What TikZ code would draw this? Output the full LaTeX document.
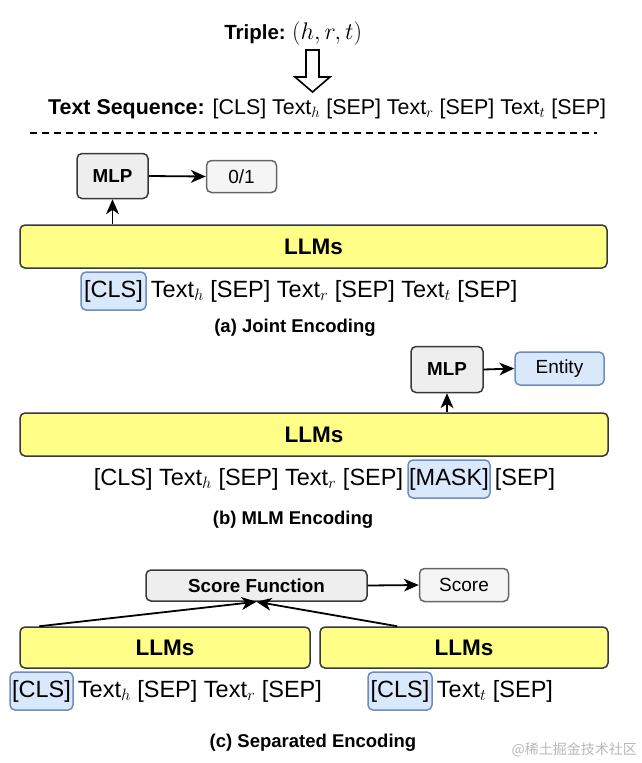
\RequirePackage{fix-cm}
\documentclass[tikz,border=0pt]{standalone}
\usepackage{fontspec}
\setmainfont{Liberation Sans}
\newfontfamily\cjkfont{Noto Sans CJK SC}
\usetikzlibrary{arrows.meta,calc}
\definecolor{yelfill}{HTML}{FFFF88}
\definecolor{darkline}{HTML}{36393D}
\definecolor{grayfill}{HTML}{EEEEEE}
\definecolor{outfill}{HTML}{F5F5F5}
\definecolor{outline}{HTML}{666666}
\definecolor{bluefill}{HTML}{DAE8FC}
\definecolor{blueline}{HTML}{6C8EBF}
\newcommand{\fs}[1]{\fontsize{#1}{#1}\selectfont}
\tikzset{
  llm/.style={draw=darkline, fill=yelfill, line width=1.5pt, rounded corners=5pt, inner sep=0pt, font=\bfseries\fs{22.5}},
  mlpbox/.style={draw=darkline, fill=grayfill, line width=1.5pt, rounded corners=5pt, inner sep=0pt, font=\bfseries\fs{18.8}},
  outbox/.style={draw=outline, fill=outfill, line width=1.5pt, rounded corners=5pt, inner sep=0pt, font=\fs{19}},
  entbox/.style={draw=blueline, fill=bluefill, line width=1.5pt, rounded corners=5pt, inner sep=0pt, font=\fs{19}},
  tokbox/.style={draw=blueline, fill=bluefill, line width=1.5pt, rounded corners=5pt, inner sep=0pt, font=\fs{23.5}},
  tok/.style={inner sep=0pt, font=\fs{23.5}},
  capt/.style={inner sep=0pt, font=\bfseries\fs{18.5}},
  arr/.style={line width=1.8pt, -{Stealth[length=15pt,width=13pt,inset=4.5pt,line width=0pt]}},
}
\begin{document}
\begin{tikzpicture}[x=1pt,y=-1pt]
\useasboundingbox (0,0) rectangle (641,763);

% header
\node[inner sep=0pt, anchor=base east, font=\bfseries\fs{20.5}] (triple) at (286,39) {Triple:};
\node[inner sep=0pt, anchor=base west, font=\fs{24}] (hrt) at (292,39) {$(h,r,t)$};
\draw[line width=1.6pt, line join=miter] (306,50) -- (319,50) -- (319,77) -- (330,77) -- (312.5,92) -- (295,77) -- (306,77) -- cycle;
\node[inner sep=0pt, anchor=base west, font=\fs{21.4}] (seq) at (48,114)
  {\textbf{Text Sequence:} [CLS] Text$_h$ [SEP] Text$_r$ [SEP] Text$_t$ [SEP]};
\coordinate (dl) at (30,133);
\coordinate (dr) at (597,133);
\draw[line width=1.8pt, dash pattern=on 7pt off 5pt] (dl) -- (dr);

% (a) Joint encoding
\node[mlpbox, minimum width=71pt, minimum height=45pt] (mlpa) at (112.5,176) {MLP};
\node[outbox, minimum width=70pt, minimum height=32pt] (outa) at (241.5,176.5) {0/1};
\node[llm, minimum width=587pt, minimum height=43pt] (lla) at (313.5,246.5) {LLMs};
\draw[arr] (mlpa.east) -- (outa.west);
\draw[arr] (mlpa.south |- lla.north) -- (mlpa.south);
\node[tokbox, minimum width=65pt, minimum height=38pt] (clsa) at (113.5,291) {[CLS]};
\node[tok, anchor=base west] (reada) at ([xshift=4pt]clsa.base east) {Text$_h$ [SEP] Text$_r$ [SEP] Text$_t$ [SEP]};
\node[capt] (capa) at (295,328) {(a) Joint Encoding};

% (b) MLM encoding
\node[mlpbox, minimum width=72pt, minimum height=46pt] (mlpb) at (447,369.5) {MLP};
\node[entbox, minimum width=89pt, minimum height=33pt] (entb) at (559.5,368.5) {Entity};
\node[llm, minimum width=588pt, minimum height=43pt] (llb) at (314,434.5) {LLMs};
\draw[arr] (mlpb.east) -- (entb.west);
\draw[arr] (mlpb.south |- llb.north) -- (mlpb.south);
\node[tokbox, minimum width=82pt, minimum height=38pt] (maskb) at (449,479) {[MASK]};
\node[tok, anchor=base east] (preb) at ([xshift=-4pt]maskb.base west) {[CLS] Text$_h$ [SEP] Text$_r$ [SEP]};
\node[tok, anchor=base west] (postb) at ([xshift=4pt]maskb.base east) {[SEP]};
\node[capt] (capb) at (293,520) {(b) MLM Encoding};

% (c) Separated encoding
\node[mlpbox, minimum width=221pt, minimum height=31pt] (sf) at (256.5,585.5) {Score Function};
\node[outbox, minimum width=89pt, minimum height=33pt] (score) at (464,585) {Score};
\node[llm, minimum width=290pt, minimum height=41pt] (llc1) at (165,647.5) {LLMs};
\node[llm, minimum width=288pt, minimum height=41pt] (llc2) at (464,647.5) {LLMs};
\draw[arr] (sf.east) -- (score.west);
\draw[arr] ([xshift=20pt]llc1.north west) -- (sf.south);
\draw[arr] ([xshift=78pt]llc2.north west) -- (sf.south);
\node[tokbox, minimum width=63pt, minimum height=38pt] (clsc1) at (41.5,691) {[CLS]};
\node[tok, anchor=base west] (restc1) at ([xshift=4pt]clsc1.base east) {Text$_h$ [SEP] Text$_r$ [SEP]};
\node[tokbox, minimum width=64pt, minimum height=38pt] (clsc2) at (400,691) {[CLS]};
\node[tok, anchor=base west] (restc2) at ([xshift=4pt]clsc2.base east) {Text$_t$ [SEP]};
\node[capt] (capc) at (313,743) {(c) Separated Encoding};

% watermark
\node[inner sep=0pt, anchor=east, text=black!28, font=\cjkfont\fs{14}] (wm) at (637,750) {@稀土掘金技术社区};
\end{tikzpicture}
\end{document}
